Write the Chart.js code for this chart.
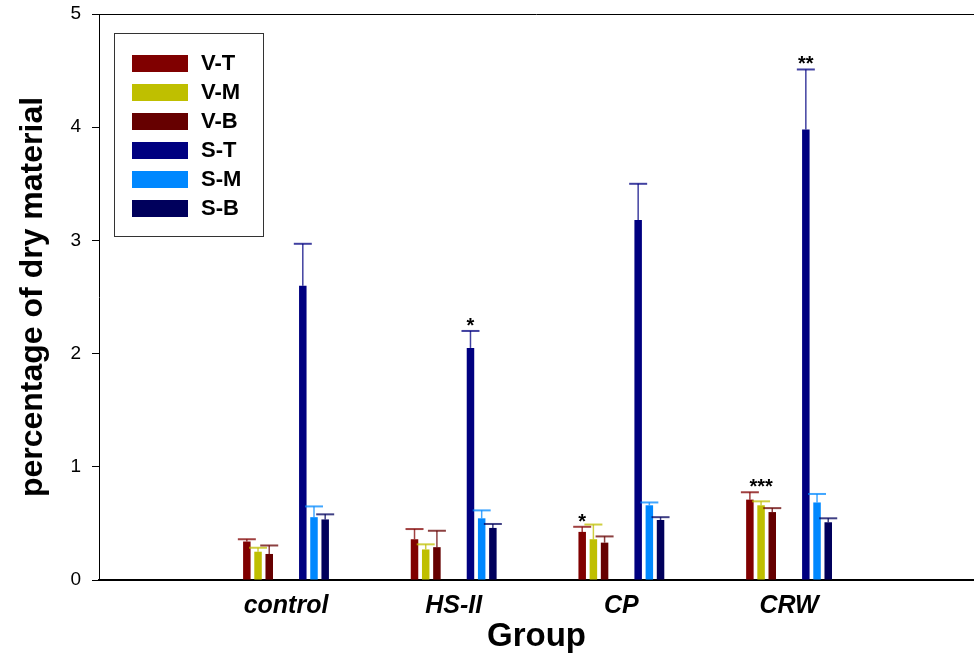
<!DOCTYPE html>
<html>
<head>
<meta charset="utf-8">
<script src="https://cdn.jsdelivr.net/npm/chart.js@4/dist/chart.umd.min.js"></script>
<style>
  html, body { margin:0; padding:0; background:#fff; }
  canvas { display:block; }
</style>
</head>
<body>
<canvas id="c" width="974" height="660"></canvas>
<script>
// ---------- data ----------
const groups = ["control", "HS-II", "CP", "CRW"];
const yTicks = [0, 1, 2, 3, 4, 5];

const seriesNames = ["V-T", "V-M", "V-B", "S-T", "S-M", "S-B"];
const seriesColors = ["#800000", "#bfbf00", "#660000", "#000080", "#0088ff", "#00005c"];

const vT = [0.34, 0.36, 0.425, 0.71];
const vM = [0.25, 0.27, 0.36, 0.66];
const vB = [0.23, 0.29, 0.33, 0.60];
const sT = [2.60, 2.05, 3.18, 3.98];
const sM = [0.555, 0.545, 0.66, 0.685];
const sB = [0.535, 0.46, 0.53, 0.51];

const vTerr = [0.02, 0.09, 0.045, 0.065];
const vMerr = [0.035, 0.045, 0.13, 0.035];
const vBerr = [0.075, 0.145, 0.055, 0.035];
const sTerr = [0.37, 0.15, 0.32, 0.53];
const sMerr = [0.095, 0.07, 0.025, 0.075];
const sBerr = [0.045, 0.035, 0.025, 0.035];

// significance marks
const stars = [
  { group:"HS-II", series:["S-T"], text:"*" },
  { group:"CP", series:["V-T"], text:"*" },
  { group:"CRW", series:["V-T","V-M","V-B"], text:"***" },
  { group:"CRW", series:["S-T"], text:"**" }
];

const values = [vT, vM, vB, sT, sM, sB];
const errors = [vTerr, vMerr, vBerr, sTerr, sMerr, sBerr];

// ---------- datasets (two empty slots between V and S) ----------
function mk(i){
  return {
    label: seriesNames[i],
    data: values[i].map((v,k)=>({ x:k+1, y:v })),
    err: errors[i],
    backgroundColor: seriesColors[i],
    borderWidth: 0
  };
}
function spacer(){
  return { label:"", data: groups.map((g,k)=>({ x:k+1, y:null })), backgroundColor:"rgba(0,0,0,0)" };
}
const datasets = [mk(0), mk(1), mk(2), spacer(), spacer(), mk(3), mk(4), mk(5)];

// ---------- plugins ----------
const frame = {
  id:"frame",
  afterDraw(chart){
    const {ctx, chartArea:a} = chart;
    ctx.save();
    ctx.strokeStyle = "#000";
    ctx.lineWidth = 1;
    ctx.beginPath();
    ctx.moveTo(a.left, a.top + 0.5);
    ctx.lineTo(a.right, a.top + 0.5);
    ctx.stroke();
    ctx.restore();
  }
};

const errorBars = {
  id:"errorBars",
  afterDatasetsDraw(chart){
    const ctx = chart.ctx, y = chart.scales.y;
    ctx.save();
    chart.data.datasets.forEach((ds, i)=>{
      if(!ds.err) return;
      const meta = chart.getDatasetMeta(i);
      meta.data.forEach((bar, k)=>{
        const v = ds.data[k].y;
        if(v == null) return;
        const top = y.getPixelForValue(v + ds.err[k]);
        ctx.strokeStyle = ds.backgroundColor;
        ctx.globalAlpha = 0.75;
        ctx.lineWidth = 1.5;
        ctx.beginPath();
        ctx.moveTo(bar.x, bar.y);
        ctx.lineTo(bar.x, top);
        ctx.stroke();
        ctx.lineWidth = 2;
        ctx.beginPath();
        ctx.moveTo(bar.x - 9, top);
        ctx.lineTo(bar.x + 9, top);
        ctx.stroke();
      });
    });
    ctx.globalAlpha = 1;
    ctx.fillStyle = "#000";
    ctx.font = "bold 20px Arial, 'Liberation Sans'";
    ctx.textAlign = "center";
    ctx.textBaseline = "alphabetic";
    stars.forEach(s=>{
      const k = groups.indexOf(s.group);
      let xs = [], tops = [];
      s.series.forEach(name=>{
        const i = seriesNames.indexOf(name);
        const di = chart.data.datasets.findIndex(d=>d.label === name);
        const bar = chart.getDatasetMeta(di).data[k];
        xs.push(bar.x);
        tops.push(y.getPixelForValue(values[i][k] + errors[i][k]));
      });
      const cx = xs.reduce((a,b)=>a+b,0) / xs.length;
      const ty = Math.min(...tops);
      ctx.fillText(s.text, cx, ty + 1);
    });
    ctx.restore();
  }
};

const boxLegend = {
  id:"boxLegend",
  afterDraw(chart){
    const ctx = chart.ctx;
    ctx.save();
    ctx.strokeStyle = "#333";
    ctx.lineWidth = 1;
    ctx.strokeRect(114.5, 33.5, 149, 203);
    ctx.font = "bold 22px Arial, 'Liberation Sans'";
    ctx.textBaseline = "middle";
    ctx.textAlign = "left";
    seriesNames.forEach((name, i)=>{
      const cy = 63 + i * 29;
      ctx.fillStyle = seriesColors[i];
      ctx.fillRect(132, cy - 8, 56, 17);
      ctx.fillStyle = "#000";
      ctx.fillText(name, 201, cy + 1);
    });
    ctx.restore();
  }
};

// ---------- chart ----------
Chart.defaults.color = "#000";
Chart.defaults.font.family = "Arial, 'Liberation Sans', sans-serif";

new Chart(document.getElementById("c"), {
  type:"bar",
  data:{ datasets },
  options:{
    responsive:false,
    animation:false,
    layout:{ padding:{ top:14, right:0, left:0, bottom:0 } },
    categoryPercentage:0.534,
    barPercentage:0.67,
    plugins:{ legend:{ display:false }, tooltip:{ enabled:false } },
    scales:{
      x:{
        type:"linear",
        min:-0.1153,
        max:5.103,
        offset:false,
        grid:{ display:false },
        border:{ color:"#000", width:2 },
        afterBuildTicks(scale){ scale.ticks = groups.map((g,k)=>({ value:k+1 })); },
        afterFit(scale){ scale.height = 80; scale.paddingLeft = 0; scale.paddingRight = 0; },
        ticks:{
          autoSkip:false,
          maxRotation:0,
          padding:3,
          font:{ size:25, weight:"bold", style:"italic" },
          callback:(v)=>groups[v-1]
        },
        title:{ display:true, text:"Group", font:{ size:33, weight:"bold" }, padding:{ top:0, bottom:3 } }
      },
      y:{
        min:0,
        max:5,
        afterBuildTicks(scale){ scale.ticks = yTicks.map(v=>({ value:v })); },
        afterFit(scale){ scale.width = 99; scale.paddingTop = 0; scale.paddingBottom = 0; },
        grid:{ drawOnChartArea:false, drawTicks:true, tickLength:7, color:"#000" },
        border:{ color:"#000", width:1 },
        ticks:{ padding:11, font:{ size:19 } },
        title:{ display:true, text:"percentage of dry material", font:{ size:32, weight:"bold" }, padding:{ top:14, bottom:0 } }
      }
    }
  },
  plugins:[frame, errorBars, boxLegend]
});
</script>
</body>
</html>
